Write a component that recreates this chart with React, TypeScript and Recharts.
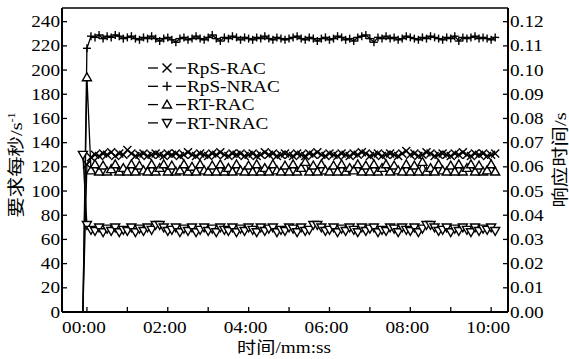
import React from 'react';
import { LineChart, Line, XAxis, YAxis, Legend, ReferenceLine } from 'recharts';

const times = [
  -6, 0, 6, 12, 18, 24, 30, 36, 42, 48, 54,
  60, 66, 72, 78, 84, 90, 96, 102, 108, 114,
  120, 126, 132, 138, 144, 150, 156, 162, 168, 174,
  180, 186, 192, 198, 204, 210, 216, 222, 228, 234,
  240, 246, 252, 258, 264, 270, 276, 282, 288, 294,
  300, 306, 312, 318, 324, 330, 336, 342, 348, 354,
  360, 366, 372, 378, 384, 390, 396, 402, 408, 414,
  420, 426, 432, 438, 444, 450, 456, 462, 468, 474,
  480, 486, 492, 498, 504, 510, 516, 522, 528, 534,
  540, 546, 552, 558, 564, 570, 576, 582, 588, 594,
  600, 606,
];

const rpsRac = [
  0, 122,
  128, 130, 129, 131, 130, 132, 129, 131, 130, 134,
  131, 129, 130, 131, 129, 130, 131, 130, 129, 131,
  130, 131, 129, 130, 132, 130, 129, 131, 130, 129,
  131, 130, 132, 130, 129, 131, 130, 131, 129, 130,
  131, 129, 130, 132, 130, 131, 129, 130, 131, 130,
  129, 131, 130, 129, 131, 130, 132, 130, 129, 131,
  130, 129, 131, 130, 129, 131, 130, 132, 131, 129,
  130, 131, 129, 130, 131, 130, 129, 131, 133, 130,
  131, 129, 130, 132, 131, 129, 130, 131, 130, 129,
  131, 130, 132, 130, 129, 131, 130, 131, 129, 130,
  131,
];

const rpsNrac = [
  0, 218,
  228, 227, 229, 226, 228, 227, 229, 228, 226, 227,
  228, 226, 225, 227, 226, 228, 226, 224, 226, 227,
  225, 223, 226, 227, 225, 226, 228, 226, 225, 227,
  229, 226, 224, 227, 226, 228, 227, 225, 227, 226,
  225, 227, 226, 228, 226, 225, 227, 226, 225, 226,
  227, 228, 226, 225, 227, 226, 224, 226, 227, 225,
  226, 228, 227, 225, 226, 224, 227, 228, 229, 226,
  223, 227, 226, 228, 226, 227, 225, 226, 228, 227,
  226, 225, 227, 226, 228, 227, 226, 225, 227, 226,
  228, 224, 227, 226, 227, 228, 226, 227, 226, 225,
  227,
];

const rtRac = [
  0, 0.097,
  0.0585, 0.061, 0.058, 0.0605, 0.058, 0.059, 0.061, 0.058, 0.0595, 0.058,
  0.061, 0.058, 0.0605, 0.0585, 0.058, 0.061, 0.058, 0.0595, 0.061, 0.058,
  0.0605, 0.058, 0.0585, 0.061, 0.058, 0.06, 0.058, 0.061, 0.0585, 0.058,
  0.0605, 0.058, 0.061, 0.058, 0.0595, 0.058, 0.061, 0.0585, 0.058, 0.0605,
  0.058, 0.061, 0.058, 0.0595, 0.058, 0.061, 0.0585, 0.058, 0.0605, 0.058,
  0.061, 0.058, 0.0595, 0.062, 0.058, 0.0605, 0.058, 0.061, 0.0585, 0.058,
  0.0605, 0.058, 0.061, 0.058, 0.0595, 0.0585, 0.061, 0.058, 0.0605, 0.058,
  0.061, 0.058, 0.0595, 0.061, 0.058, 0.0605, 0.0585, 0.058, 0.061, 0.058,
  0.0605, 0.058, 0.062, 0.058, 0.0595, 0.058, 0.061, 0.0585, 0.058, 0.0605,
  0.058, 0.061, 0.058, 0.0595, 0.061, 0.058, 0.0605, 0.058, 0.0585, 0.061,
  0.058,
];

const rtNrac = [
  0.065, 0.036,
  0.034, 0.0335, 0.035, 0.033, 0.0345, 0.0335, 0.035, 0.033, 0.034, 0.0335,
  0.035, 0.033, 0.0345, 0.0335, 0.035, 0.034, 0.036, 0.036, 0.035, 0.0335,
  0.034, 0.035, 0.033, 0.0345, 0.0335, 0.035, 0.033, 0.034, 0.035, 0.0335,
  0.0345, 0.033, 0.035, 0.034, 0.0335, 0.035, 0.033, 0.0345, 0.0335, 0.035,
  0.034, 0.033, 0.035, 0.0335, 0.0345, 0.035, 0.033, 0.034, 0.0335, 0.035,
  0.0345, 0.033, 0.035, 0.0335, 0.034, 0.036, 0.036, 0.035, 0.0335, 0.034,
  0.035, 0.033, 0.0345, 0.0335, 0.035, 0.034, 0.033, 0.035, 0.0335, 0.0345,
  0.035, 0.033, 0.034, 0.0335, 0.035, 0.0345, 0.033, 0.035, 0.034, 0.0335,
  0.035, 0.033, 0.0345, 0.036, 0.036, 0.035, 0.0335, 0.034, 0.035, 0.033,
  0.0345, 0.0335, 0.035, 0.034, 0.033, 0.035, 0.0335, 0.0345, 0.034, 0.035,
  0.0335,
];

const seriesNames = ['RpS-RAC', 'RpS-NRAC', 'RT-RAC', 'RT-NRAC'];
const xTicks = [0, 60, 120, 180, 240, 300, 360, 420, 480, 540, 600];
const leftTicks = [0, 20, 40, 60, 80, 100, 120, 140, 160, 180, 200, 220, 240];
const rightTicks = [0, 0.01, 0.02, 0.03, 0.04, 0.05, 0.06, 0.07, 0.08, 0.09, 0.1, 0.11, 0.12];

const data = times.map((t, i) => ({
  t,
  rpsRac: rpsRac[i],
  rpsNrac: rpsNrac[i],
  rtRac: rtRac[i],
  rtNrac: rtNrac[i],
}));

const FONT = "'Liberation Serif', 'Times New Roman', 'DejaVu Serif', 'Noto Sans CJK SC', serif";
const SX = 1.2;
const W = 569;
const H = 359;
const PL = 62;
const PR = 508;
const PT = 8;
const PB = 312;

type Kind = 'x' | 'plus' | 'up' | 'down';

function marker(kind: Kind, cx: number, cy: number, s: number, key?: string) {
  const sw = 1.4;
  if (kind === 'x') {
    return (
      <g key={key}>
        <line x1={cx - s} y1={cy - s} x2={cx + s} y2={cy + s} stroke="#000" strokeWidth={sw} />
        <line x1={cx - s} y1={cy + s} x2={cx + s} y2={cy - s} stroke="#000" strokeWidth={sw} />
      </g>
    );
  }
  if (kind === 'plus') {
    return (
      <g key={key}>
        <line x1={cx - s} y1={cy} x2={cx + s} y2={cy} stroke="#000" strokeWidth={sw} />
        <line x1={cx} y1={cy - s} x2={cx} y2={cy + s} stroke="#000" strokeWidth={sw} />
      </g>
    );
  }
  if (kind === 'up') {
    return (
      <polygon
        key={key}
        points={`${cx},${cy - s} ${cx - s},${cy + s * 0.75} ${cx + s},${cy + s * 0.75}`}
        fill="#fff"
        stroke="#000"
        strokeWidth={sw}
      />
    );
  }
  return (
    <polygon
      key={key}
      points={`${cx},${cy + s} ${cx - s},${cy - s * 0.75} ${cx + s},${cy - s * 0.75}`}
      fill="#fff"
      stroke="#000"
      strokeWidth={sw}
    />
  );
}

const makeDot = (kind: Kind, skipFirst: boolean, size: number) => (p: any) => {
  const key = `${kind}-${p.index}`;
  if ((skipFirst && p.index === 0) || p.cx == null || p.cy == null) return <g key={key} />;
  return marker(kind, p.cx, p.cy, size, key);
};

const txtStyle = { fontFamily: FONT, fontSize: 16, fill: '#000' } as const;

const LeftTick = (props: any) => {
  const { y, payload } = props;
  return (
    <g>
      <line x1={PL} x2={PL + 5} y1={y} y2={y} stroke="#000" strokeWidth={1.3} />
      <text
        transform={`translate(${PL - 2},${y}) scale(${SX},1)`}
        textAnchor="end"
        dy="0.35em"
        style={txtStyle}
      >
        {payload.value}
      </text>
    </g>
  );
};

const RightTick = (props: any) => {
  const { y, payload } = props;
  return (
    <g>
      <line x1={PR - 5} x2={PR} y1={y} y2={y} stroke="#000" strokeWidth={1.3} />
      <text
        transform={`translate(${PR + 2},${y}) scale(${SX},1)`}
        textAnchor="start"
        dy="0.35em"
        style={txtStyle}
      >
        {Number(payload.value).toFixed(2)}
      </text>
    </g>
  );
};

const fmtTime = (v: number) => {
  const m = Math.round(v / 60);
  return `${String(m).padStart(2, '0')}:00`;
};

const XTick = (props: any) => {
  const { x, payload } = props;
  const v = payload.value as number;
  const showLabel = v % 120 === 0;
  return (
    <g>
      <line x1={x} x2={x} y1={PB} y2={PB - 5} stroke="#000" strokeWidth={1.3} />
      {showLabel && (
        <text
          transform={`translate(${x - 3},${PB + 21}) scale(${SX},1)`}
          textAnchor="middle"
          style={txtStyle}
        >
          {fmtTime(v)}
        </text>
      )}
    </g>
  );
};

const XLabel = () => (
  <text
    transform={`translate(${284},${PB + 41}) scale(${SX},1)`}
    textAnchor="middle"
    style={txtStyle}
  >
    时间/mm:ss
  </text>
);

const LeftLabel = () => (
  <text
    transform={`translate(${22},${165}) rotate(-90) scale(${SX},1)`}
    textAnchor="middle"
    style={{ ...txtStyle, fontSize: 17 }}
  >
    要求每秒/s
    <tspan dy={-7} style={{ fontSize: 10 }}>-1</tspan>
  </text>
);

const RightLabel = () => (
  <text
    transform={`translate(${566},${160}) rotate(-90) scale(${SX},1)`}
    textAnchor="middle"
    style={{ ...txtStyle, fontSize: 17 }}
  >
    响应时间/s
  </text>
);

const legendKinds: Kind[] = ['x', 'plus', 'up', 'down'];

const LegendContent = () => (
  <svg width={160} height={80} style={{ display: 'block', overflow: 'visible' }}>
    {seriesNames.map((name, i) => {
      const cy = 10 + i * 18.3;
      return (
        <g key={name}>
          <line x1={0} x2={10} y1={cy} y2={cy} stroke="#000" strokeWidth={1.3} />
          {marker(legendKinds[i], 19, cy, 4.5)}
          <line x1={28} x2={38} y1={cy} y2={cy} stroke="#000" strokeWidth={1.3} />
          <text
            transform={`translate(39,${cy}) scale(${SX},1)`}
            dy="0.35em"
            style={txtStyle}
          >
            {name}
          </text>
        </g>
      );
    })}
  </svg>
);

export default function App() {
  return (
    <div style={{ position: 'absolute', left: 0, top: 0, width: W, height: H, background: '#fff' }}>
      <LineChart
        width={W}
        height={H}
        data={data}
        margin={{ top: PT, right: 0, bottom: 0, left: 0 }}
      >
        <XAxis
          dataKey="t"
          type="number"
          domain={[-37, 625]}
          ticks={xTicks}
          interval={0}
          height={H - PB}
          tickSize={0}
          tickLine={false}
          axisLine={{ stroke: '#000', strokeWidth: 2 }}
          tick={<XTick />}
          label={<XLabel />}
          allowDataOverflow
        />
        <YAxis
          yAxisId="left"
          orientation="left"
          type="number"
          domain={[0, 251.3]}
          ticks={leftTicks}
          interval={0}
          width={PL}
          tickSize={0}
          tickLine={false}
          axisLine={{ stroke: '#000', strokeWidth: 2 }}
          tick={<LeftTick />}
          label={<LeftLabel />}
          allowDataOverflow
        />
        <YAxis
          yAxisId="right"
          orientation="right"
          type="number"
          domain={[0, 0.12565]}
          ticks={rightTicks}
          interval={0}
          width={W - PR}
          tickSize={0}
          tickLine={false}
          axisLine={{ stroke: '#000', strokeWidth: 2 }}
          tick={<RightTick />}
          label={<RightLabel />}
          allowDataOverflow
        />
        <ReferenceLine yAxisId="left" y={251.3} stroke="#000" strokeWidth={1.3} />
        <Legend
          layout="vertical"
          align="center"
          verticalAlign="middle"
          content={<LegendContent />}
          wrapperStyle={{ position: 'absolute', left: 148, top: 58, width: 160, height: 80 }}
        />
        <Line
          yAxisId="left"
          dataKey="rpsRac"
          name={seriesNames[0]}
          type="linear"
          stroke="#000"
          strokeWidth={1.3}
          dot={makeDot('x', true, 4)}
          activeDot={false}
          isAnimationActive={false}
        />
        <Line
          yAxisId="left"
          dataKey="rpsNrac"
          name={seriesNames[1]}
          type="linear"
          stroke="#000"
          strokeWidth={1.3}
          dot={makeDot('plus', true, 4)}
          activeDot={false}
          isAnimationActive={false}
        />
        <Line
          yAxisId="right"
          dataKey="rtRac"
          name={seriesNames[2]}
          type="linear"
          stroke="#000"
          strokeWidth={1.3}
          dot={makeDot('up', true, 4.5)}
          activeDot={false}
          isAnimationActive={false}
        />
        <Line
          yAxisId="right"
          dataKey="rtNrac"
          name={seriesNames[3]}
          type="linear"
          stroke="#000"
          strokeWidth={1.3}
          dot={makeDot('down', false, 4.5)}
          activeDot={false}
          isAnimationActive={false}
        />
      </LineChart>
    </div>
  );
}
